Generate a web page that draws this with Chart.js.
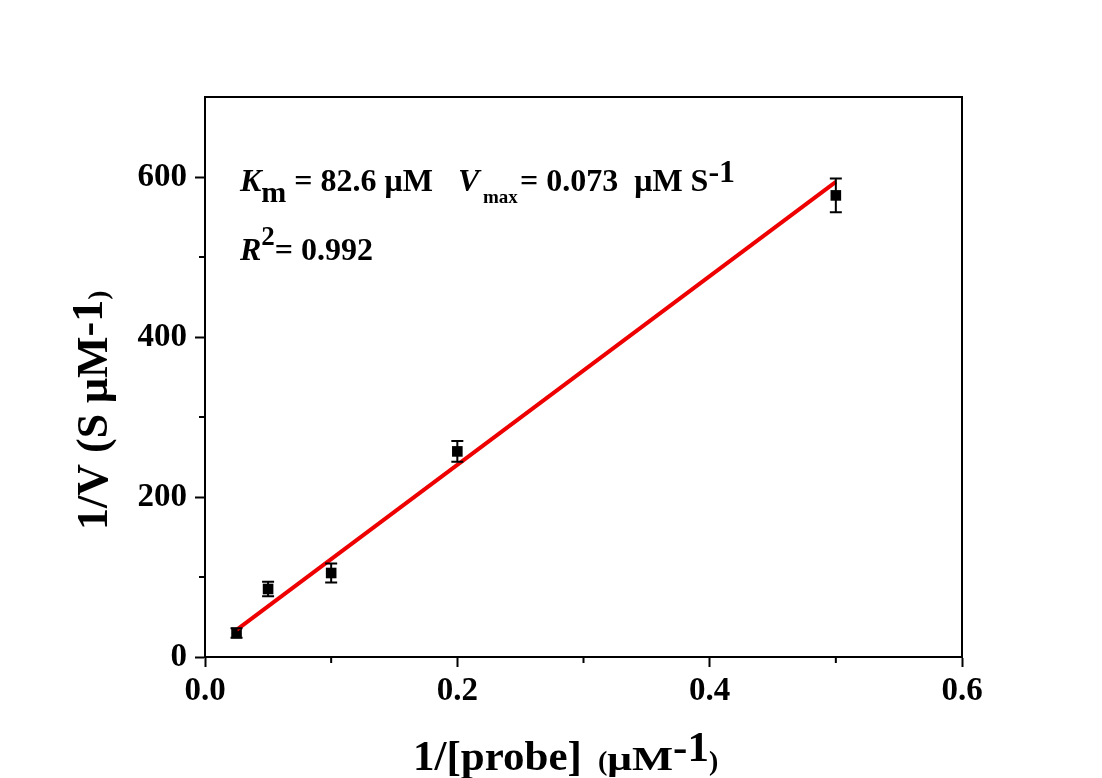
<!DOCTYPE html>
<html>
<head>
<meta charset="utf-8">
<title>Lineweaver-Burk plot</title>
<script src="https://cdn.jsdelivr.net/npm/chart.js@4/dist/chart.umd.min.js"></script>
<style>
  html, body { margin: 0; padding: 0; background: #fff; }
  #wrap { width: 1102px; height: 778px; }
</style>
</head>
<body>
<div id="wrap"><canvas id="lbChart" width="1102" height="778"></canvas></div>
<script>
// 1/[probe] (uM^-1) vs 1/V (s uM^-1)
const invProbe = [0.025, 0.05, 0.1, 0.2, 0.5];
const invRate = [30, 85, 105, 257, 577];
const rateErr = [6, 9, 12, 13, 21];

// linear fit end points
const fitX = [0.025, 0.5];
const fitY = [34, 594];

const xTicks = [0.0, 0.2, 0.4, 0.6];
const yTicks = [0, 200, 400, 600];
const xMinor = [0.1, 0.3, 0.5];
const yMinor = [100, 300, 500];

const SERIF = '"Liberation Serif", "Times New Roman", serif';

// draws a sequence of text runs, each with its own font, baseline shift and stretch
function drawRuns(ctx, x, y, runs) {
    runs.forEach(r => {
        ctx.font = r.font;
        if (r.x !== undefined) x = r.x;
        const sx = r.sx || 1;
        ctx.save();
        ctx.translate(x, y + (r.dy || 0));
        ctx.scale(sx, 1);
        ctx.fillText(r.t, 0, 0);
        ctx.restore();
        x += ctx.measureText(r.t).width * sx;
    });
}

const extras = {
    id: 'extras',
    afterDatasetsDraw(chart) {
        const ctx = chart.ctx;
        const xs = chart.scales.x, ys = chart.scales.y;
        const area = chart.chartArea;
        ctx.save();

        // error bars
        ctx.strokeStyle = '#000';
        ctx.lineWidth = 2;
        invProbe.forEach((v, i) => {
            const px = xs.getPixelForValue(v);
            const top = ys.getPixelForValue(invRate[i] + rateErr[i]);
            const bot = ys.getPixelForValue(invRate[i] - rateErr[i]);
            ctx.beginPath();
            ctx.moveTo(px, top); ctx.lineTo(px, bot);
            ctx.moveTo(px - 6, top); ctx.lineTo(px + 6, top);
            ctx.moveTo(px - 6, bot); ctx.lineTo(px + 6, bot);
            ctx.stroke();
        });

        // frame top and right
        ctx.beginPath();
        ctx.moveTo(area.left, area.top); ctx.lineTo(area.right, area.top);
        ctx.lineTo(area.right, area.bottom);
        ctx.stroke();

        // minor ticks
        ctx.beginPath();
        xMinor.forEach(v => {
            const px = xs.getPixelForValue(v);
            ctx.moveTo(px, area.bottom); ctx.lineTo(px, area.bottom + 6);
        });
        yMinor.forEach(v => {
            const py = ys.getPixelForValue(v);
            ctx.moveTo(area.left, py); ctx.lineTo(area.left - 6, py);
        });
        ctx.stroke();

        ctx.fillStyle = '#000';
        ctx.textBaseline = 'alphabetic';
        ctx.textAlign = 'left';

        // kinetic constants
        drawRuns(ctx, 240, 191, [
            { t: 'K', font: 'italic bold 32px ' + SERIF },
            { t: 'm', font: 'bold 30px ' + SERIF, dy: 11 },
            { t: ' = 82.6 \u03bcM', font: 'bold 32px ' + SERIF },
            { t: 'V', font: 'italic bold 32px ' + SERIF, x: 458 },
            { t: 'max', font: 'bold 19px ' + SERIF, x: 483, dy: 12 },
            { t: '= 0.073  \u03bcM S', font: 'bold 32px ' + SERIF, x: 520 },
            { t: '-1', font: 'bold 32px ' + SERIF, dy: -9 }
        ]);
        drawRuns(ctx, 240, 260, [
            { t: 'R', font: 'italic bold 32px ' + SERIF },
            { t: '2', font: 'bold 27px ' + SERIF, dy: -15 },
            { t: '= 0.992', font: 'bold 32px ' + SERIF }
        ]);

        // x axis title
        drawRuns(ctx, 413, 770, [
            { t: '1/[probe]', font: 'bold 43px ' + SERIF },
            { t: '(', font: 'bold 28px ' + SERIF, x: 598 },
            { t: '\u03bcM', font: 'bold 34px ' + SERIF, sx: 1.28 },
            { t: '-1', font: 'bold 43px ' + SERIF, dy: -9 },
            { t: ')', font: 'bold 28px ' + SERIF }
        ]);

        // y axis title
        ctx.translate(107, 530);
        ctx.rotate(-Math.PI / 2);
        drawRuns(ctx, 0, 0, [
            { t: '1/V (S \u03bcM', font: 'bold 44px ' + SERIF },
            { t: '-1', font: 'bold 44px ' + SERIF, dy: -5 },
            { t: ')', font: 'bold 28px ' + SERIF }
        ]);
        ctx.restore();
    }
};

const ctx = document.getElementById('lbChart').getContext('2d');
const chart = new Chart(ctx, {
    type: 'scatter',
    data: {
        datasets: [{
            label: 'data',
            data: invProbe.map((v, i) => ({ x: v, y: invRate[i] })),
            pointStyle: 'rect',
            pointRadius: 7.5,
            pointBorderWidth: 0,
            backgroundColor: '#000',
            borderColor: '#000',
            order: 1
        }, {
            label: 'fit',
            type: 'line',
            data: fitX.map((v, i) => ({ x: v, y: fitY[i] })),
            borderColor: '#ee0000',
            borderWidth: 4,
            pointRadius: 0,
            fill: false,
            order: 0
        }]
    },
    options: {
        responsive: false,
        animation: false,
        devicePixelRatio: 1,
        layout: { padding: { top: 97, right: 140, left: 0, bottom: 0 } },
        plugins: { legend: { display: false }, tooltip: { enabled: false } },
        scales: {
            x: {
                type: 'linear',
                min: 0, max: 0.6,
                afterFit(scale) { scale.height = 121; },
                afterBuildTicks(scale) { scale.ticks = xTicks.map(v => ({ value: v })); },
                border: { display: true, color: '#000', width: 2 },
                grid: { drawOnChartArea: false, tickLength: 10, tickWidth: 2, color: '#000' },
                ticks: {
                    color: '#000',
                    padding: 5,
                    maxRotation: 0,
                    font: { family: SERIF, size: 33, weight: 'bold' },
                    callback: v => v.toFixed(1)
                }
            },
            y: {
                type: 'linear',
                min: 0, max: 700,
                afterFit(scale) { scale.width = 205; },
                afterBuildTicks(scale) { scale.ticks = yTicks.map(v => ({ value: v })); },
                border: { display: true, color: '#000', width: 2 },
                grid: { drawOnChartArea: false, tickLength: 10, tickWidth: 2, color: '#000' },
                ticks: {
                    color: '#000',
                    padding: 8,
                    font: { family: SERIF, size: 33, weight: 'bold' }
                }
            }
        }
    },
    plugins: [extras]
});
</script>
</body>
</html>
